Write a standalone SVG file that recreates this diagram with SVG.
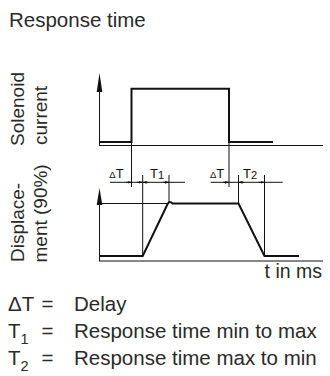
<svg xmlns="http://www.w3.org/2000/svg" width="330" height="376" viewBox="0 0 330 376">
<style>
text{font-family:"Liberation Sans",Arial,Helvetica,sans-serif;fill:#2a2a2a}
.thin{fill:none;stroke:#111;stroke-width:1}
.thick{fill:none;stroke:#111;stroke-width:2;stroke-linejoin:miter}
.ah{fill:#111;stroke:none}
.lab{font-size:19px}
.leg{font-size:20.5px}
.dim{font-size:13px;fill:#111}
</style>
<defs>
<marker id="tick" viewBox="0 0 6 4" refX="6" refY="2" markerWidth="4" markerHeight="3" orient="auto" markerUnits="userSpaceOnUse">
<path d="M0,0 L6,2 L0,4 Z" fill="#111"/>
</marker>
</defs>
<rect width="330" height="376" fill="#fff"/>
<g id="title"><text x="9" y="27.3" style="font-size:20.5px">Response time</text></g>

<g id="axis-labels">
<text class="lab" transform="translate(24,146) rotate(-90)">Solenoid</text>
<text class="lab" transform="translate(47,145) rotate(-90)">current</text>
<text class="lab" transform="translate(24,262) rotate(-90)">Displace-</text>
<text class="lab" transform="translate(47,262.5) rotate(-90)">ment (90%)</text>
</g>

<g id="current-graph">
<line class="thin" x1="99.5" y1="146" x2="99.5" y2="88"/>
<path class="ah" d="M99.5,73 L102.3,92 L96.7,92 Z"/>
<line class="thin" x1="99" y1="145.5" x2="323" y2="145.5"/>
<polyline class="thick" points="99,142 131.5,142 131.5,88.7 229,88.7 229,142 273,142"/>
</g>

<g id="displacement-graph">
<line class="thin" x1="99.5" y1="261" x2="99.5" y2="200"/>
<path class="ah" d="M99.5,188 L102.3,205 L96.7,205 Z"/>
<line class="thin" x1="99" y1="261" x2="323" y2="261"/>
<line class="thin" x1="99.5" y1="203.5" x2="168" y2="203.5"/>
<path class="thick" d="M99,256 L142.7,256 L167.6,204 Q169.5,200.3 172.5,203.5 L238.5,203.5 L264.5,256 L299,256"/>
<text x="322" y="278" text-anchor="end" style="font-size:19.5px">t in ms</text>
</g>

<g id="connectors">
<line class="thin" x1="131.5" y1="142" x2="131.5" y2="187"/>
<line class="thin" x1="229" y1="142" x2="229" y2="187"/>
<line class="thin" x1="142.7" y1="175" x2="142.7" y2="256"/>
<line class="thin" x1="169" y1="175" x2="169" y2="202"/>
<line class="thin" x1="238.5" y1="175" x2="238.5" y2="203"/>
<line class="thin" x1="264.5" y1="175" x2="264.5" y2="256"/>
<line class="thin" x1="110" y1="182.3" x2="185" y2="182.3"/>
<line class="thin" x1="210.7" y1="182.3" x2="282.7" y2="182.3"/>
<line class="thin" x1="126" y1="182.3" x2="131.5" y2="182.3" marker-end="url(#tick)"/>
<line class="thin" x1="148" y1="182.3" x2="142.7" y2="182.3" marker-end="url(#tick)"/>
<line class="thin" x1="137" y1="182.3" x2="142.7" y2="182.3" marker-end="url(#tick)"/>
<line class="thin" x1="163" y1="182.3" x2="169" y2="182.3" marker-end="url(#tick)"/>
<line class="thin" x1="223" y1="182.3" x2="229" y2="182.3" marker-end="url(#tick)"/>
<line class="thin" x1="244" y1="182.3" x2="238.5" y2="182.3" marker-end="url(#tick)"/>
<line class="thin" x1="258.5" y1="182.3" x2="264.5" y2="182.3" marker-end="url(#tick)"/>
</g>

<g id="dim-labels">
<text x="109.3" y="178.3" class="dim"><tspan style="font-size:9.5px">Δ</tspan>T</text>
<text x="150" y="178.3" class="dim">T<tspan style="font-size:11px" dy="1">1</tspan></text>
<text x="210" y="178.3" class="dim"><tspan style="font-size:9.5px">Δ</tspan>T</text>
<text x="243" y="178.3" class="dim">T<tspan style="font-size:11px" dy="1">2</tspan></text>
</g>

<g id="legend">
<text x="8" y="311" class="leg">ΔT</text>
<text x="41.5" y="311" class="leg">=</text>
<text x="74" y="311" class="leg">Delay</text>
<text x="8" y="338" class="leg">T<tspan style="font-size:14.5px" dy="6">1</tspan></text>
<text x="41.5" y="338" class="leg">=</text>
<text x="74" y="338" class="leg">Response time min to max</text>
<text x="8" y="365" class="leg">T<tspan style="font-size:14.5px" dy="6">2</tspan></text>
<text x="41.5" y="365" class="leg">=</text>
<text x="74" y="365" class="leg">Response time max to min</text>
</g>
</svg>
